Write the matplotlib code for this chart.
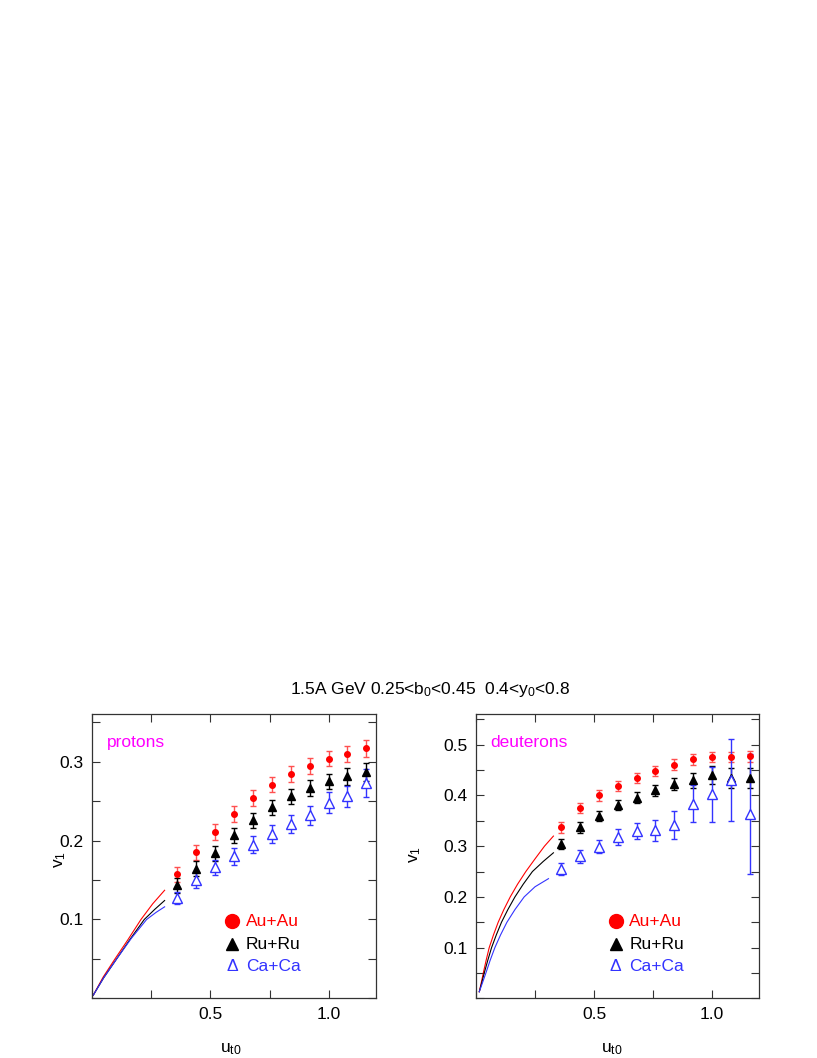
import matplotlib
matplotlib.use("Agg")
import matplotlib.pyplot as plt
from matplotlib.ticker import MultipleLocator

plt.rcParams['font.family'] = ['Liberation Sans', 'DejaVu Sans']
plt.rcParams['mathtext.fontset'] = 'custom'
plt.rcParams['mathtext.rm'] = 'Liberation Sans'
plt.rcParams['mathtext.it'] = 'Liberation Sans:italic'

# transverse 4-velocity bins (shared by both panels)
ut0 = [0.36, 0.44, 0.52, 0.60, 0.68, 0.76, 0.84, 0.92, 1.00, 1.08, 1.16]

# protons
p_au = [0.157, 0.185, 0.211, 0.234, 0.254, 0.271, 0.284, 0.295, 0.304, 0.310, 0.317]
p_au_err = [0.0095, 0.010, 0.010, 0.010, 0.010, 0.010, 0.010, 0.010, 0.010, 0.0105, 0.0105]
p_ru = [0.1435, 0.164, 0.184, 0.207, 0.226, 0.242, 0.256, 0.267, 0.275, 0.2815, 0.287]
p_ru_err = [0.0095, 0.0095, 0.0095, 0.0095, 0.0095, 0.0095, 0.0095, 0.010, 0.010, 0.0105, 0.011]
p_ca = [0.127, 0.150, 0.166, 0.180, 0.195, 0.2085, 0.221, 0.232, 0.248, 0.256, 0.273]
p_ca_err = [0.008, 0.010, 0.010, 0.011, 0.011, 0.011, 0.012, 0.012, 0.013, 0.013, 0.0175]

# deuterons
d_au = [0.337, 0.375, 0.400, 0.419, 0.435, 0.448, 0.461, 0.471, 0.4755, 0.4755, 0.477]
d_au_err = [0.010, 0.010, 0.010, 0.010, 0.010, 0.010, 0.010, 0.010, 0.010, 0.010, 0.010]
d_ru = [0.305, 0.337, 0.360, 0.381, 0.396, 0.410, 0.422, 0.430, 0.440, 0.435, 0.435]
d_ru_err = [0.010, 0.010, 0.010, 0.010, 0.010, 0.011, 0.012, 0.015, 0.018, 0.020, 0.020]
d_ca = [0.255, 0.280, 0.299, 0.318, 0.330, 0.331, 0.342, 0.384, 0.402, 0.430, 0.364]
d_ca_err = [0.012, 0.0125, 0.013, 0.015, 0.0165, 0.021, 0.027, 0.037, 0.055, 0.081, 0.118]

# model curves
p_au_cx = [0.004, 0.046, 0.096, 0.150, 0.206, 0.256, 0.306]
p_au_cy = [0.004, 0.027, 0.050, 0.074, 0.100, 0.120, 0.137]
p_ru_cx = [0.004, 0.048, 0.103, 0.160, 0.220, 0.265, 0.306]
p_ru_cy = [0.004, 0.026, 0.050, 0.075, 0.100, 0.113, 0.124]
p_ca_cx = [0.004, 0.048, 0.103, 0.165, 0.230, 0.270, 0.306]
p_ca_cy = [0.004, 0.026, 0.050, 0.076, 0.100, 0.109, 0.116]

d_au_cx = [0.014, 0.022, 0.031, 0.043, 0.056, 0.074, 0.094, 0.118, 0.145, 0.176, 0.211, 0.250, 0.290, 0.328]
d_au_cy = [0.013, 0.030, 0.050, 0.075, 0.100, 0.125, 0.150, 0.175, 0.200, 0.225, 0.250, 0.275, 0.300, 0.320]
d_ru_cx = [0.014, 0.024, 0.035, 0.050, 0.066, 0.086, 0.108, 0.135, 0.165, 0.200, 0.239, 0.285, 0.328]
d_ru_cy = [0.013, 0.030, 0.050, 0.075, 0.100, 0.125, 0.150, 0.175, 0.200, 0.225, 0.250, 0.270, 0.287]
d_ca_cx = [0.014, 0.027, 0.042, 0.060, 0.080, 0.104, 0.131, 0.165, 0.204, 0.250, 0.307]
d_ca_cy = [0.013, 0.030, 0.050, 0.075, 0.100, 0.125, 0.150, 0.175, 0.200, 0.220, 0.236]

RED = '#ff0000'
BLUE = '#3333ff'
MAG = '#ff00ff'
FS = 12.5

fig = plt.figure(figsize=(8.17, 10.58), dpi=100)
axL = fig.add_axes([0.113, 0.0564, 0.347, 0.2684])
axR = fig.add_axes([0.5826, 0.0564, 0.3468, 0.2684])


def draw(ax, au, aue, ru, rue, ca, cae, curves, ylim, label):
    for cx, cy, c in curves:
        ax.plot(cx, cy, color=c, lw=0.8)
    ax.errorbar(ut0, au, yerr=aue, fmt='o', color=RED, ms=4, capsize=2.5,
                elinewidth=1, capthick=1, ecolor='#ff5050')
    ax.errorbar(ut0, ru, yerr=rue, fmt='^', color='black', ms=5.5, capsize=2.5,
                elinewidth=1, capthick=1)
    ax.errorbar(ut0, ca, yerr=cae, fmt='^', color=BLUE, mfc='white', ms=6.5,
                mew=1, capsize=2.5, elinewidth=1, capthick=1)
    ax.set_xlim(0, 1.2)
    ax.set_ylim(*ylim)
    ax.xaxis.set_major_locator(MultipleLocator(0.5))
    ax.xaxis.set_minor_locator(MultipleLocator(0.25))
    ax.yaxis.set_major_locator(MultipleLocator(0.1))
    ax.yaxis.set_minor_locator(MultipleLocator(0.05))
    ax.tick_params(which='both', direction='in', top=True, right=True,
                   length=6, width=0.8, labelsize=FS, pad=6, color='#333333')
    ax.set_xticks([0.5, 1.0])
    ax.set_xticklabels(['0.5', '1.0'])
    for s in ax.spines.values():
        s.set_color('#333333')
        s.set_linewidth(0.9)
    ax.text(0.05, 0.90, label, color=MAG, fontsize=FS, transform=ax.transAxes,
            va='center', ha='left')
    # legend
    ax.plot([0.4935], [0.272], 'o', color=RED, ms=10, transform=ax.transAxes, clip_on=False)
    ax.plot([0.4935], [0.190], '^', color='black', ms=9, transform=ax.transAxes, clip_on=False)
    ax.text(0.541, 0.272, 'Au+Au', color=RED, fontsize=FS, transform=ax.transAxes, va='center')
    ax.text(0.541, 0.190, 'Ru+Ru', color='black', fontsize=FS, transform=ax.transAxes, va='center')
    ax.text(0.4935, 0.111, '\u0394', color=BLUE, fontsize=FS, transform=ax.transAxes,
            va='center', ha='center')
    ax.text(0.541, 0.111, 'Ca+Ca', color=BLUE, fontsize=FS, transform=ax.transAxes, va='center')
    ax.set_xlabel(r'u$_{\rm t0}$', fontsize=FS)
    ax.set_ylabel(r'v$_1$', fontsize=FS)


draw(axL, p_au, p_au_err, p_ru, p_ru_err, p_ca, p_ca_err,
     [(p_au_cx, p_au_cy, RED), (p_ru_cx, p_ru_cy, 'black'), (p_ca_cx, p_ca_cy, BLUE)],
     (0, 0.36), 'protons')
draw(axR, d_au, d_au_err, d_ru, d_ru_err, d_ca, d_ca_err,
     [(d_au_cx, d_au_cy, RED), (d_ru_cx, d_ru_cy, 'black'), (d_ca_cx, d_ca_cy, BLUE)],
     (0, 0.56), 'deuterons')

axL.set_yticks([0.1, 0.2, 0.3])
axL.set_yticklabels(['0.1', '0.2', '0.3'])
axR.set_yticks([0.1, 0.2, 0.3, 0.4, 0.5])
axR.set_yticklabels(['0.1', '0.2', '0.3', '0.4', '0.5'])

axL.yaxis.set_label_coords(-0.086, 0.49)
axR.yaxis.set_label_coords(-0.187, 0.505)
axL.xaxis.set_label_coords(0.49, -0.153)
axR.xaxis.set_label_coords(0.48, -0.153)

fig.text(0.527, 0.348, r'1.5A GeV 0.25<b$_0$<0.45  0.4<y$_0$<0.8', ha='center',
         va='center', fontsize=12.5)

fig.savefig('out.png', dpi=100)
